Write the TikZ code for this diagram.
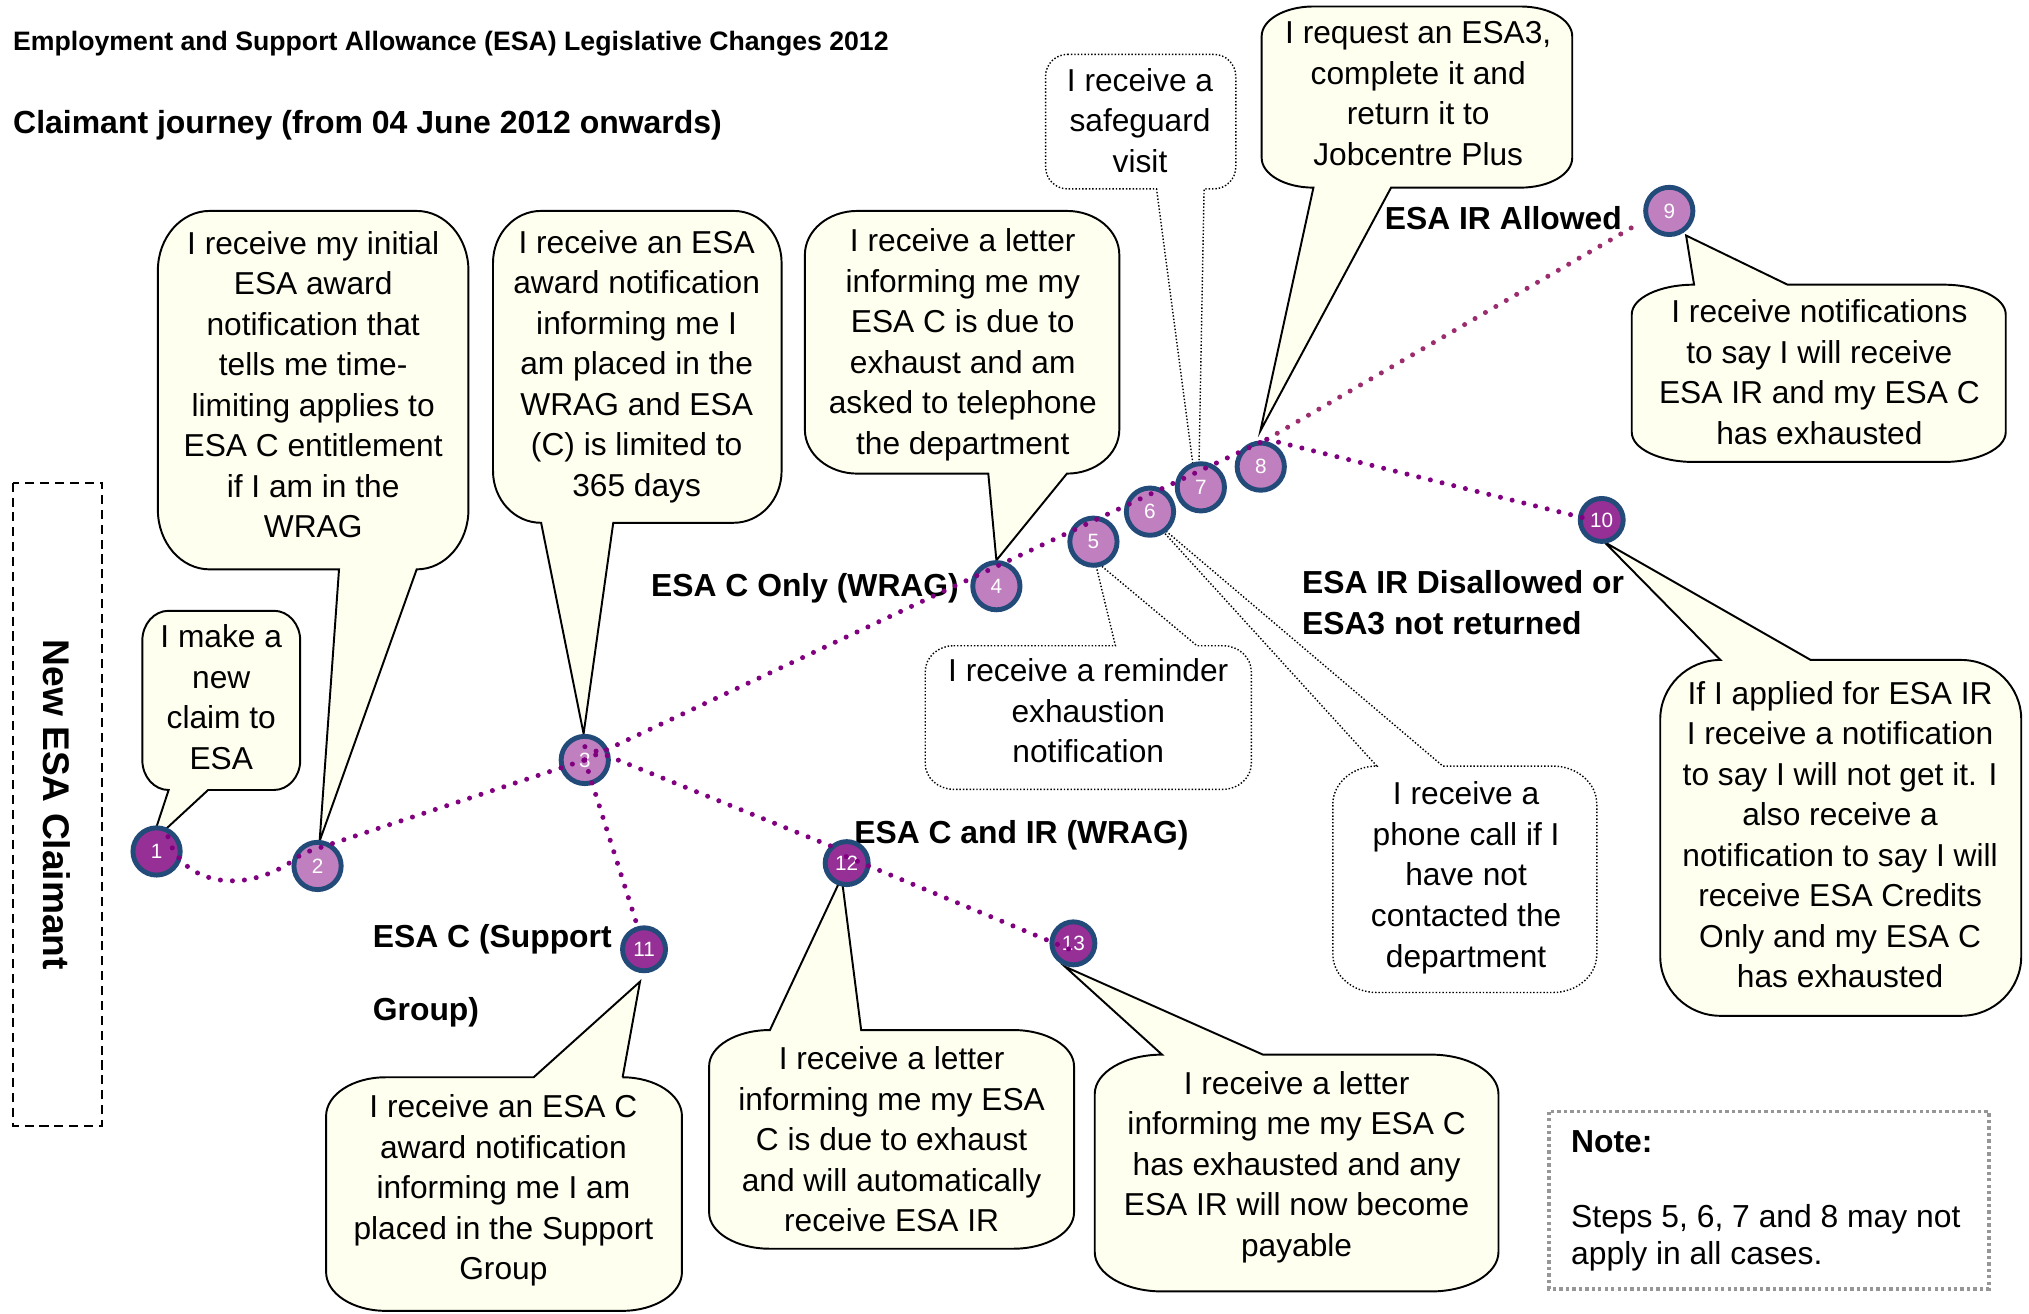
\documentclass[tikz,border=0pt]{standalone}
\usepackage{fontspec}
\setmainfont{Liberation Sans}
\definecolor{cream}{RGB}{255,255,240}
\definecolor{cblue}{RGB}{35,75,122}
\definecolor{lpurp}{RGB}{192,128,192}
\definecolor{dpurp}{RGB}{150,48,150}
\definecolor{dotp}{RGB}{128,0,128}
\definecolor{dotq}{RGB}{155,45,110}
\definecolor{notegray}{RGB}{150,150,150}

% #1 style, #2 L, #3 T, #4 R, #5 B, #6 rx, #7 ry, #8 base start fraction, #9 tip
\newcommand\calloutdown[9]{%
 \pgfmathsetmacro\cpA{#2+#8*(#4-#2)}%
 \pgfmathsetmacro\cpB{\cpA+0.25*(#4-#2)}%
 \path[#1] ({#2+#6},#3) -- ({#4-#6},#3)
  .. controls ({#4-0.4477*#6},#3) and (#4,{#3+0.4477*#7}) .. (#4,{#3+#7})
  -- (#4,{#5-#7})
  .. controls (#4,{#5-0.4477*#7}) and ({#4-0.4477*#6},#5) .. ({#4-#6},#5)
  -- (\cpB,#5) -- #9 -- (\cpA,#5) -- ({#2+#6},#5)
  .. controls ({#2+0.4477*#6},#5) and (#2,{#5-0.4477*#7}) .. (#2,{#5-#7})
  -- (#2,{#3+#7})
  .. controls (#2,{#3+0.4477*#7}) and ({#2+0.4477*#6},#3) .. ({#2+#6},#3)
  -- cycle;}
\newcommand\calloutup[9]{%
 \pgfmathsetmacro\cpA{#2+#8*(#4-#2)}%
 \pgfmathsetmacro\cpB{\cpA+0.25*(#4-#2)}%
 \path[#1] ({#2+#6},#3) -- (\cpA,#3) -- #9 -- (\cpB,#3) -- ({#4-#6},#3)
  .. controls ({#4-0.4477*#6},#3) and (#4,{#3+0.4477*#7}) .. (#4,{#3+#7})
  -- (#4,{#5-#7})
  .. controls (#4,{#5-0.4477*#7}) and ({#4-0.4477*#6},#5) .. ({#4-#6},#5)
  -- ({#2+#6},#5)
  .. controls ({#2+0.4477*#6},#5) and (#2,{#5-0.4477*#7}) .. (#2,{#5-#7})
  -- (#2,{#3+#7})
  .. controls (#2,{#3+0.4477*#7}) and ({#2+0.4477*#6},#3) .. ({#2+#6},#3)
  -- cycle;}

\begin{document}
\begin{tikzpicture}[x=1pt,y=-1pt,
  cbox/.style={draw=black, fill=cream, line width=1.5pt},
  dbox/.style={draw=black, fill=white, line width=1.1pt, dash pattern=on 1.1pt off 1.5pt},
  ctext/.style={align=center, inner sep=0pt, font=\fontsize{24.5}{31.3}\selectfont,
     execute at begin node=\strut, execute at end node=\strut},
  lbl/.style={anchor=base west, inner sep=0pt, font=\bfseries\fontsize{24.6}{30}\selectfont},
  cirbase/.style={circle, draw=cblue, line width=3.8pt, text=white, inner sep=0pt,
     font=\fontsize{16}{18}\selectfont},
  cirL/.style={cirbase, fill=lpurp, minimum size=36.5pt},
  cirD/.style={cirbase, fill=dpurp, minimum size=36.5pt},
  cirS/.style={cirbase, fill=dpurp, minimum size=33.2pt},
  cdot/.style={draw=dotp, line width=3.9pt, line cap=round, dash pattern=on 0pt off 9.3pt}]
\useasboundingbox (0,0) rectangle (1568,1015);

% titles
\node[anchor=base west, inner sep=0pt, font=\bfseries\fontsize{20.6}{24}\selectfont] (title1) at (10,39.4)
  {Employment and Support Allowance (ESA) Legislative Changes 2012};
\node[anchor=base west, inner sep=0pt, font=\bfseries\fontsize{24.7}{30}\selectfont] (title2) at (10,102.8)
  {Claimant journey (from 04 June 2012 onwards)};

% New ESA Claimant box
\draw[black, line width=1.6pt, dash pattern=on 7pt off 4.5pt] (10,373) rectangle (79,870);
\node[rotate=-90, inner sep=0pt, font=\bfseries\fontsize{28.7}{32}\selectfont] (claimant) at (44,622) {New ESA Claimant};

% tip coordinates
\coordinate (tA) at (117,651);
\coordinate (tB) at (247,650);
\coordinate (tC) at (451,567);
\coordinate (tD) at (770,433);
\coordinate (tE) at (926,390);
\coordinate (tF) at (974,333);
\coordinate (tG) at (1303,182);
\coordinate (tH) at (1240,419);
\coordinate (tI) at (846,433);
\coordinate (tJ) at (890,401);
\coordinate (tK) at (494.6,758.6);
\coordinate (tL) at (650.4,678);
\coordinate (tM) at (823,747);

% callouts
\calloutdown{cbox}{110}{472}{232}{610.5}{20.3}{23}{0.16667}{(tA)}
\calloutdown{cbox}{122}{163}{362}{440}{40}{46}{0.58333}{(tB)}
\calloutdown{cbox}{381}{163}{604}{404}{37}{40}{0.16667}{(tC)}
\calloutdown{cbox}{622}{163}{865}{366}{40.5}{34}{0.58333}{(tD)}
\calloutdown{dbox}{808}{42}{955}{146}{17}{17}{0.58333}{(tE)}
\calloutdown{cbox}{975}{5}{1215}{145}{40}{23}{0.16667}{(tF)}
\calloutup{cbox}{1261}{220}{1550}{357}{48}{23}{0.16667}{(tG)}
\calloutup{cbox}{1283}{510}{1562}{785}{46.5}{46}{0.16667}{(tH)}
\calloutup{dbox}{715}{499}{967}{610}{22}{20}{0.58333}{(tI)}
\calloutup{dbox}{1030}{592}{1234}{767}{34}{29.5}{0.16667}{(tJ)}
\calloutup{cbox}{252}{832.5}{527}{1013}{46}{30}{0.58333}{(tK)}
\calloutup{cbox}{548}{796}{830}{965}{47}{28}{0.16667}{(tL)}
\calloutup{cbox}{846}{815}{1158}{998}{52}{30.5}{0.16667}{(tM)}

\node[ctext] (txtA) at (171,543.5) {I make a\\new\\claim to\\ESA};
\node[ctext] (txtB) at (242,302) {I receive my initial\\ESA award\\notification that\\tells me time-\\limiting applies to\\ESA C entitlement\\if I am in the\\WRAG};
\node[ctext] (txtC) at (492,285.5) {I receive an ESA\\award notification\\informing me I\\am placed in the\\WRAG and ESA\\(C) is limited to\\365 days};
\node[ctext] (txtD) at (744,268.5) {I receive a letter\\informing me my\\ESA C is due to\\exhaust and am\\asked to telephone\\the department};
\node[ctext] (txtE) at (881,97.5) {I receive a\\safeguard\\visit};
\node[ctext] (txtF) at (1096,77) {I request an ESA3,\\complete it and\\return it to\\Jobcentre Plus};
\node[ctext] (txtG) at (1406,292) {I receive notifications\\to say I will receive\\ESA IR and my ESA C\\has exhausted};
\node[ctext] (txtH) at (1422,649.5) {If I applied for ESA IR\\I receive a notification\\to say I will not get it. I\\also receive a\\notification to say I will\\receive ESA Credits\\Only and my ESA C\\has exhausted};
\node[ctext] (txtI) at (841,554) {I receive a reminder\\exhaustion\\notification};
\node[ctext] (txtJ) at (1133,680.5) {I receive a\\phone call if I\\have not\\contacted the\\department};
\node[ctext] (txtK) at (389,922) {I receive an ESA C\\award notification\\informing me I am\\placed in the Support\\Group};
\node[ctext] (txtL) at (689,885) {I receive a letter\\informing me my ESA\\C is due to exhaust\\and will automatically\\receive ESA IR};
\node[ctext] (txtM) at (1002,904) {I receive a letter\\informing me my ESA C\\has exhausted and any\\ESA IR will now become\\payable};

% branch labels
\node[lbl] (lbC) at (503,461) {ESA C Only (WRAG)};
\node[lbl] (lbAllow) at (1070,177) {ESA IR Allowed};
\node[lbl] (lbDis1) at (1006,459) {ESA IR Disallowed or};
\node[lbl] (lbDis2) at (1006,490) {ESA3 not returned};
\node[lbl] (lbCIR) at (660,652) {ESA C and IR (WRAG)};
\node[lbl] (lbSG1) at (288,732) {ESA C (Support};
\node[lbl] (lbSG2) at (288,789) {Group)};

% note
\draw[notegray, line width=2.6pt, dash pattern=on 2.6pt off 2.4pt] (1197,859) rectangle (1537,996);
\node[lbl] (noteh) at (1214,891) {Note:};
\node[anchor=base west, inner sep=0pt, font=\fontsize{24.6}{30}\selectfont] (note1) at (1214,948.5) {Steps 5, 6, 7 and 8 may not};
\node[anchor=base west, inner sep=0pt, font=\fontsize{24.6}{30}\selectfont] (note2) at (1214,977.5) {apply in all cases.};

% circles
\node[cirD] (n1) at (121,658) {1};
\node[cirL] (n2) at (245.4,669.2) {2};
\node[cirL] (n3) at (451.9,587.3) {3};
\node[cirL] (n4) at (770,453) {4};
\node[cirL] (n5) at (845,418.6) {5};
\node[cirL] (n6) at (888.7,395.4) {6};
\node[cirL] (n7) at (928,376.6) {7};
\node[cirL] (n8) at (974.3,360.6) {8};
\node[cirL] (n9) at (1290,163) {9};
\node[cirS] (n10) at (1237.8,401.8) {10};
\node[cirS] (n11) at (497.7,733.6) {11};
\node[cirS] (n12) at (654.3,667) {12};
\node[cirS] (n13) at (829.5,729) {13};

% connector attachment points
\coordinate (k1) at (129.8,646.6);
\coordinate (k2) at (233.6,659.6);
\coordinate (k3b) at (452,577);
\coordinate (k8) at (979,339.5);
\coordinate (k9) at (1266,173);
\coordinate (k10) at (1231,402);
\coordinate (k11) at (493,717);
\coordinate (k12a) at (645,655);
\coordinate (k12b) at (654,662);
\coordinate (k13) at (831,735.5);

% dotted journey lines
\draw[cdot] (k1) .. controls (140,684) and (192,694) .. (k2) -- (n3.center);
\draw[cdot] (n3.center) -- (k8);
\draw[cdot, draw=dotq] (k8) -- (k9);
\draw[cdot] (k8) -- (k10);
\draw[cdot] (n3.center) -- (k11);
\draw[cdot] (k3b) -- (k12a);
\draw[cdot] (k12b) -- (k13);
\end{tikzpicture}
\end{document}
